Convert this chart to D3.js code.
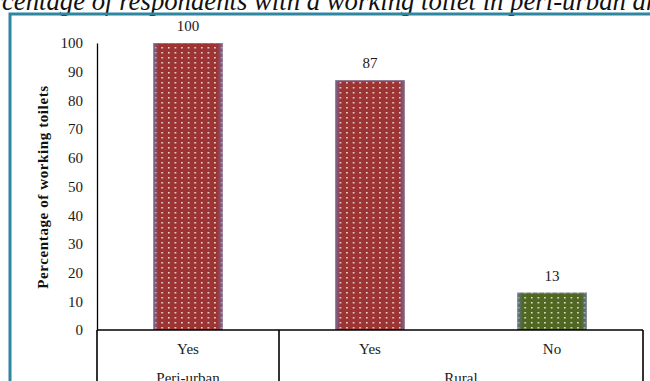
<!DOCTYPE html>
<html><head><meta charset="utf-8">
<script src="https://cdn.jsdelivr.net/npm/d3@7"></script>
<style>html,body{margin:0;padding:0;background:#fff;overflow:hidden}svg{display:block}</style>
</head><body>
<script>
const categories = ["Yes", "Yes", "No"];
const groupLabels = [{name:"Peri-urban", from:0, to:0}, {name:"Rural", from:1, to:2}];
const values = [100, 87, 13];
const colorKeys = ["red", "red", "green"];
const yTicks = [0,10,20,30,40,50,60,70,80,90,100];
const titleText = "Percentage of respondents with a working toilet in peri-urban and rural areas";
const yTitle = "Percentage of working toilets";

const W = 650, H = 381;
const SERIF = "'Liberation Serif', 'Times New Roman', serif";
const svg = d3.select("body").append("svg").attr("width", W).attr("height", H);
const defs = svg.append("defs");

function makePattern(id, base) {
  const p = defs.append("pattern").attr("id", id).attr("patternUnits", "userSpaceOnUse")
    .attr("width", 6.6).attr("height", 5).attr("x", 2).attr("y", 1);
  p.append("rect").attr("width", 6.6).attr("height", 5).attr("fill", base);
  p.append("rect").attr("x", 1).attr("y", 1).attr("width", 1.5).attr("height", 1.5).attr("fill", "#f4ecec");
}
makePattern("pRed", "#9c3434");
makePattern("pGreen", "#4f6720");
const g = defs.append("linearGradient").attr("id", "edge").attr("x1", 0).attr("x2", 1).attr("y1", 0).attr("y2", 0);
[[0, 0.75], [0.08, 0.0], [0.92, 0.0], [1, 0.75]].forEach(([o, a]) =>
  g.append("stop").attr("offset", o).attr("stop-color", "#6a78b0").attr("stop-opacity", a));

// Title (clipped like the source)
const title = svg.append("text").attr("y", 10)
  .attr("font-family", SERIF).attr("font-style", "italic").attr("font-size", 20).attr("fill", "#111").text(titleText);
const tmp = svg.append("text").attr("font-family", SERIF).attr("font-style", "italic").attr("font-size", 20);
tmp.text("Per"); const wPer = tmp.node().getComputedTextLength();
tmp.text("centage of respondents with a working toilet in peri-urban a"); const wVis = tmp.node().getComputedTextLength();
tmp.remove();
const fs = 20 * 644 / wVis;
title.attr("font-size", fs).attr("x", 3 - wPer * fs / 20);

// teal frame
svg.append("path").attr("d", `M10,${H+5} L10,14 L${W+5},14`).attr("fill", "none")
  .attr("stroke", "#2f86a0").attr("stroke-width", 3);

const x0 = 97, x1 = 643, yTop = 43, yBot = 330;
const x = d3.scaleBand().domain(d3.range(values.length)).range([x0, x1]).paddingInner(0.62).paddingOuter(0.31);
const y = d3.scaleLinear().domain([0, 100]).range([yBot, yTop]);

// y axis
const ya = svg.append("g").attr("transform", `translate(${x0},0)`)
  .call(d3.axisLeft(y).tickValues(yTicks).tickSize(0).tickPadding(14));
ya.select(".domain").attr("stroke", "#000").attr("stroke-width", 1.3);
ya.selectAll("text").attr("font-family", SERIF).attr("font-size", 15).attr("fill", "#1a1a1a");

svg.append("text").attr("transform", `translate(48,187) rotate(-90)`)
  .attr("text-anchor", "middle").attr("font-family", SERIF).attr("letter-spacing", 0.6)
  .attr("font-weight", "bold").attr("font-size", 15).attr("fill", "#111").text(yTitle);

// bars
const bars = svg.append("g");
values.forEach((v, i) => {
  const bx = x(i), bw = x.bandwidth(), by = y(v), bh = y(0) - y(v);
  bars.append("rect").attr("x", bx).attr("y", by).attr("width", bw).attr("height", bh)
    .attr("fill", colorKeys[i] === "red" ? "url(#pRed)" : "url(#pGreen)");
  bars.append("rect").attr("x", bx).attr("y", by).attr("width", bw).attr("height", bh)
    .attr("fill", "url(#edge)");
  bars.append("line").attr("x1", bx).attr("x2", bx + bw).attr("y1", by + 0.5).attr("y2", by + 0.5)
    .attr("stroke", "#7a86b8").attr("stroke-width", 1).attr("opacity", 0.7);
  svg.append("text").attr("x", bx + bw / 2).attr("y", by - 12).attr("text-anchor", "middle")
    .attr("font-family", SERIF).attr("font-size", 15).attr("fill", "#1a1a1a").text(v);
});

// category table
const cellL = i => x0 + i * (x1 - x0) / values.length;
const tbl = svg.append("g").attr("stroke", "#000").attr("stroke-width", 1.6);
tbl.append("line").attr("x1", x0).attr("x2", x1).attr("y1", yBot).attr("y2", yBot);
const seps = [x0, x1];
groupLabels.forEach(gl => seps.push(cellL(gl.from)));
[...new Set(seps)].forEach(sx => tbl.append("line").attr("x1", sx).attr("x2", sx).attr("y1", yBot).attr("y2", H + 5));

categories.forEach((c, i) => {
  svg.append("text").attr("x", x(i) + x.bandwidth() / 2).attr("y", yBot + 24).attr("text-anchor", "middle")
    .attr("font-family", SERIF).attr("font-size", 15).attr("fill", "#1a1a1a").text(c);
});
groupLabels.forEach(gl => {
  const cx = (cellL(gl.from) + cellL(gl.to + 1)) / 2;
  svg.append("text").attr("x", cx).attr("y", yBot + 53).attr("text-anchor", "middle")
    .attr("font-family", SERIF).attr("font-size", 15).attr("fill", "#1a1a1a").text(gl.name);
});
</script>
</body></html>
